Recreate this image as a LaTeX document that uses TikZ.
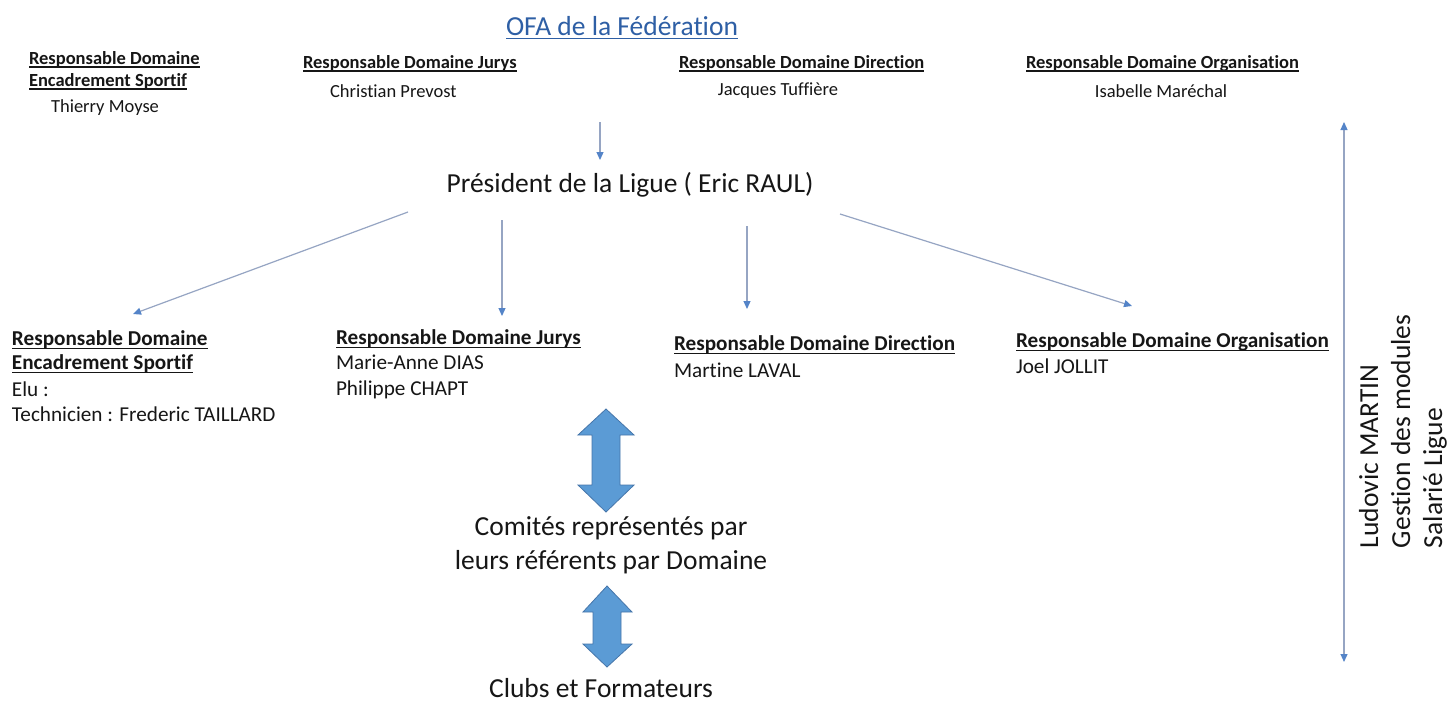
\documentclass[tikz,border=0pt]{standalone}
\usepackage{fontspec}
\setmainfont{Carlito}[Ligatures={NoCommon,NoRequired,NoContextual}]
\usetikzlibrary{arrows.meta,calc}
\definecolor{textc}{RGB}{22,22,22}
\definecolor{titlec}{RGB}{46,95,165}
\definecolor{linec}{RGB}{150,165,195}
\definecolor{tipc}{RGB}{84,132,200}
\definecolor{bigfill}{RGB}{91,155,213}
\definecolor{bigdraw}{RGB}{70,118,170}
\tikzset{
  txt/.style={inner sep=0pt, outer sep=0pt, text=textc},
  topH/.style={txt, font=\bfseries\fontsize{18.5}{22}\selectfont, anchor=base west},
  topN/.style={txt, font=\fontsize{18.5}{22}\selectfont},
  lowH/.style={txt, font=\bfseries\fontsize{21.2}{25}\selectfont, anchor=base west},
  lowN/.style={txt, font=\fontsize{21.2}{25}\selectfont, anchor=base west},
  big/.style={txt, font=\fontsize{27.5}{32}\selectfont},
  ul/.style={draw=textc, line width=1.2pt},
  conn/.style={draw=linec, line width=1.2pt, -{Triangle[width=7pt,length=8pt,color=tipc]}},
  conntwo/.style={draw=linec, line width=1.2pt, {Triangle[width=7pt,length=8pt,color=tipc]}-{Triangle[width=7pt,length=8pt,color=tipc]}},
  bigarrow/.style={fill=bigfill, draw=bigdraw, line width=0.8pt, line join=miter}
}
\newcommand\ulnode[2][3]{\draw[ul] ([yshift=-#1pt]#2.base west) -- ([yshift=-#1pt]#2.base east);}
\begin{document}
\begin{tikzpicture}[x=1pt,y=-1pt]
\fill[white] (0,0) rectangle (1450,702);
\useasboundingbox (0,0) rectangle (1450,702);

% title
\node[big, anchor=base, text=titlec] (ofa) at (622,35) {OFA de la Fédération};
\draw[ul, draw=titlec] ([yshift=-3.5pt]ofa.base west) -- ([yshift=-3.5pt]ofa.base east);

% top row (federation)
\node[topH] (tEnc1) at (29,64) {Responsable Domaine};
\node[topH] (tEnc2) at (29,86) {Encadrement Sportif};
\node[topN, anchor=base] (tEncN) at (105,112) {Thierry Moyse};
\node[topH] (tJur) at (303,68) {Responsable Domaine Jurys};
\node[topN, anchor=base west] (tJurN) at (330,97) {Christian Prevost};
\node[topH] (tDir) at (679,68) {Responsable Domaine Direction};
\node[topN, anchor=base] (tDirN) at (778,95) {Jacques Tuffière};
\node[topH] (tOrg) at (1026,68) {Responsable Domaine Organisation};
\node[topN, anchor=base] (tOrgN) at (1161,97) {Isabelle Maréchal};
\ulnode{tEnc1}\ulnode{tEnc2}\ulnode{tJur}\ulnode{tDir}\ulnode{tOrg}

% president
\node[big, anchor=base] (pres) at (630,192) {Président de la Ligue ( Eric RAUL)};
\coordinate (ofaout) at (600,122);
\coordinate (presin) at (600,160);
\draw[conn] (ofaout) -- (presin);

% lower row (ligue)
\node[lowH] (bEnc1) at (12,345) {Responsable Domaine};
\node[lowH] (bEnc2) at (12,369) {Encadrement Sportif};
\node[lowN] (bEncE) at (12,396) {Elu :};
\node[lowN] (bEncT) at (12,421) {Technicien : Frederic TAILLARD};
\node[lowH] (bJur) at (336,344) {Responsable Domaine Jurys};
\node[lowN] (bJurN1) at (336,369) {Marie-Anne DIAS};
\node[lowN] (bJurN2) at (336,395) {Philippe CHAPT};
\node[lowH] (bDir) at (674,350) {Responsable Domaine Direction};
\node[lowN] (bDirN) at (674,377) {Martine LAVAL};
\node[lowH] (bOrg) at (1016,347) {Responsable Domaine Organisation};
\node[lowN] (bOrgN) at (1016,373) {Joel JOLLIT};
\ulnode[3.5]{bEnc1}\ulnode[3.5]{bEnc2}\ulnode[3.5]{bJur}\ulnode[3.5]{bDir}\ulnode[3.5]{bOrg}

% connectors from president
\coordinate (p1) at (408,212);
\coordinate (p2) at (502,220);
\coordinate (p3) at (747,226);
\coordinate (p4) at (840,214);
\coordinate (e1) at (133,314);
\coordinate (e2) at (502,316);
\coordinate (e3) at (747,309);
\coordinate (e4) at (1132,306);
\draw[conn] (p1) -- (e1);
\draw[conn] (p2) -- (e2);
\draw[conn] (p3) -- (e3);
\draw[conn] (p4) -- (e4);

% committees and clubs
\node[big, anchor=base] (com1) at (611,535) {Comités représentés par};
\node[big, anchor=base] (com2) at (611,569) {leurs référents par Domaine};
\node[big, anchor=base] (clubs) at (601,697) {Clubs et Formateurs};

\draw[bigarrow] (606,409) -- (634,435) -- (620,435) -- (620,485) -- (634,485) -- (606,512)
  -- (578,485) -- (592,485) -- (592,435) -- (578,435) -- cycle;
\draw[bigarrow] (607,586) -- (632,612) -- (621,612) -- (621,644) -- (632,644) -- (607,667)
  -- (583,644) -- (593,644) -- (593,612) -- (583,612) -- cycle;

% salaried staff
\coordinate (vt) at (1344,122);
\coordinate (vb) at (1344,662);
\draw[conntwo] (vt) -- (vb);
\node[big, rotate=90, anchor=base west] (lm1) at (1378,548) {Ludovic MARTIN};
\node[big, rotate=90, anchor=base west] (lm2) at (1410,548) {Gestion des modules};
\node[big, rotate=90, anchor=base west] (lm3) at (1442,548) {Salarié Ligue};
\end{tikzpicture}
\end{document}
